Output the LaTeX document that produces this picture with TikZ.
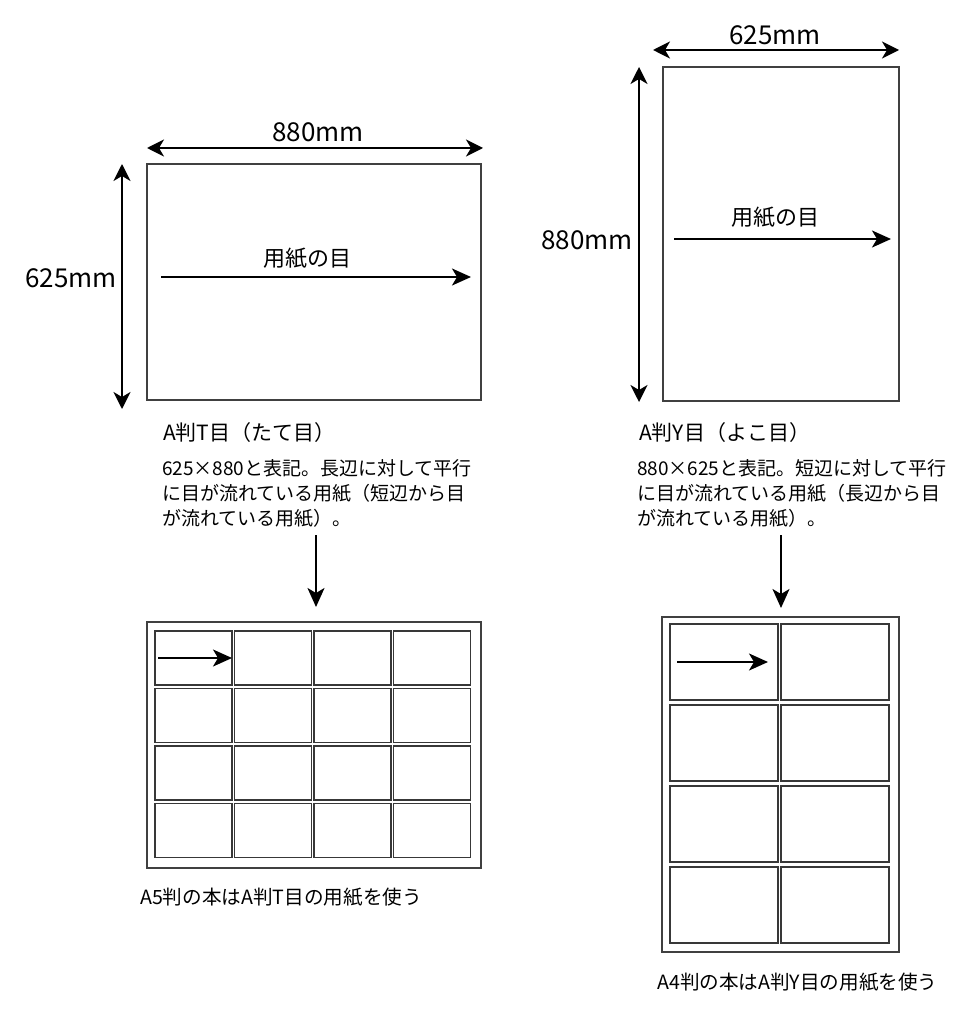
\documentclass[tikz,border=0pt]{standalone}
\usepackage{fontspec}
\setmainfont{Noto Sans CJK JP}
\usetikzlibrary{arrows.meta}
\begin{document}
\begin{tikzpicture}[x=1pt,y=-1pt,
  sheet/.style={draw=black!75, line width=1.2pt, inner sep=0pt, outer sep=0pt, anchor=north west},
  cellbox/.style={draw=black!78, line width=1.6pt, inner sep=0pt, outer sep=0pt, anchor=north west,
                  minimum width=#1},
  arr/.style={line width=2pt, -{Stealth[length=19pt,width=17pt,inset=5pt]}},
  dimarr/.style={line width=2pt, {Stealth[length=17pt,width=17pt,inset=5pt]}-{Stealth[length=17pt,width=17pt,inset=5pt]}},
  dimtxt/.style={inner sep=0pt, font=\fontsize{26}{30}\selectfont},
  graintxt/.style={inner sep=0pt, font=\fontsize{22}{26}\selectfont},
  lbl/.style={inner sep=0pt, anchor=west, font=\fontsize{21}{25}\selectfont},
  desc/.style={inner sep=0pt, anchor=north west, align=left, font=\fontsize{19}{25}\selectfont},
  captxt/.style={inner sep=0pt, anchor=west, font=\fontsize{19.6}{23}\selectfont}
]
\useasboundingbox (0,0) rectangle (976,1024);

% ---------------- left: A判T目 ----------------
\node[sheet, minimum width=334pt, minimum height=236pt] (sheetL) at (147,164) {};
\coordinate (dLa) at (147,148); \coordinate (dLb) at (483,148);
\draw[dimarr] (dLa) -- (dLb);
\node[dimtxt] (wL) at (318,132) {880mm};
\coordinate (vLa) at (122,164); \coordinate (vLb) at (122,409);
\draw[dimarr] (vLa) -- (vLb);
\node[dimtxt] (hL) at (71,278) {625mm};
\coordinate (gLa) at (161,277); \coordinate (gLb) at (471,277);
\draw[arr] (gLa) -- (gLb);
\node[graintxt] (gtL) at (307,258) {用紙の目};

\node[lbl] (lblL) at (163,433) {A判T目（たて目）};
\node[desc] (descL) at (162,459) {625×880と表記。長辺に対して平行\\に目が流れている用紙（短辺から目\\が流れている用紙）。};
\coordinate (aLa) at (316,535); \coordinate (aLb) at (316,607);
\draw[arr] (aLa) -- (aLb);

\node[sheet, minimum width=334pt, minimum height=246pt] (gridL) at (147,622) {};
\foreach \i in {0,...,3}{
  \foreach \j in {0,...,3}{
    \node[cellbox=77pt, minimum height=54pt] (cL\i\j) at ({155+79.5*\i},{631+57.5*\j}) {};
  }
}
\coordinate (sLa) at (158,658);
\draw[arr] (sLa) -- (sLa -| cL00.east);
\node[captxt] (capL) at (140,897) {A5判の本はA判T目の用紙を使う};

% ---------------- right: A判Y目 ----------------
\node[sheet, minimum width=236pt, minimum height=334pt] (sheetR) at (663,67) {};
\coordinate (dRa) at (653,50); \coordinate (dRb) at (899,50);
\draw[dimarr] (dRa) -- (dRb);
\node[dimtxt] (wR) at (775,35) {625mm};
\coordinate (vRa) at (639,67); \coordinate (vRb) at (639,402);
\draw[dimarr] (vRa) -- (vRb);
\node[dimtxt] (hR) at (587,240) {880mm};
\coordinate (gRa) at (674,239); \coordinate (gRb) at (891,239);
\draw[arr] (gRa) -- (gRb);
\node[graintxt] (gtR) at (775,217) {用紙の目};

\node[lbl] (lblR) at (639,433) {A判Y目（よこ目）};
\node[desc] (descR) at (637,459) {880×625と表記。短辺に対して平行\\に目が流れている用紙（長辺から目\\が流れている用紙）。};
\coordinate (aRa) at (781,535); \coordinate (aRb) at (781,608);
\draw[arr] (aRa) -- (aRb);

\node[sheet, minimum width=237pt, minimum height=335pt] (gridR) at (662,617) {};
\foreach \i in {0,1}{
  \foreach \j in {0,...,3}{
    \node[cellbox=108pt, minimum height=76pt] (cR\i\j) at ({670+111*\i},{624+81*\j}) {};
  }
}
\coordinate (sRa) at (677,662); \coordinate (sRb) at (768,662);
\draw[arr] (sRa) -- (sRb);
\node[captxt] (capR) at (657,982) {A4判の本はA判Y目の用紙を使う};
\end{tikzpicture}
\end{document}
